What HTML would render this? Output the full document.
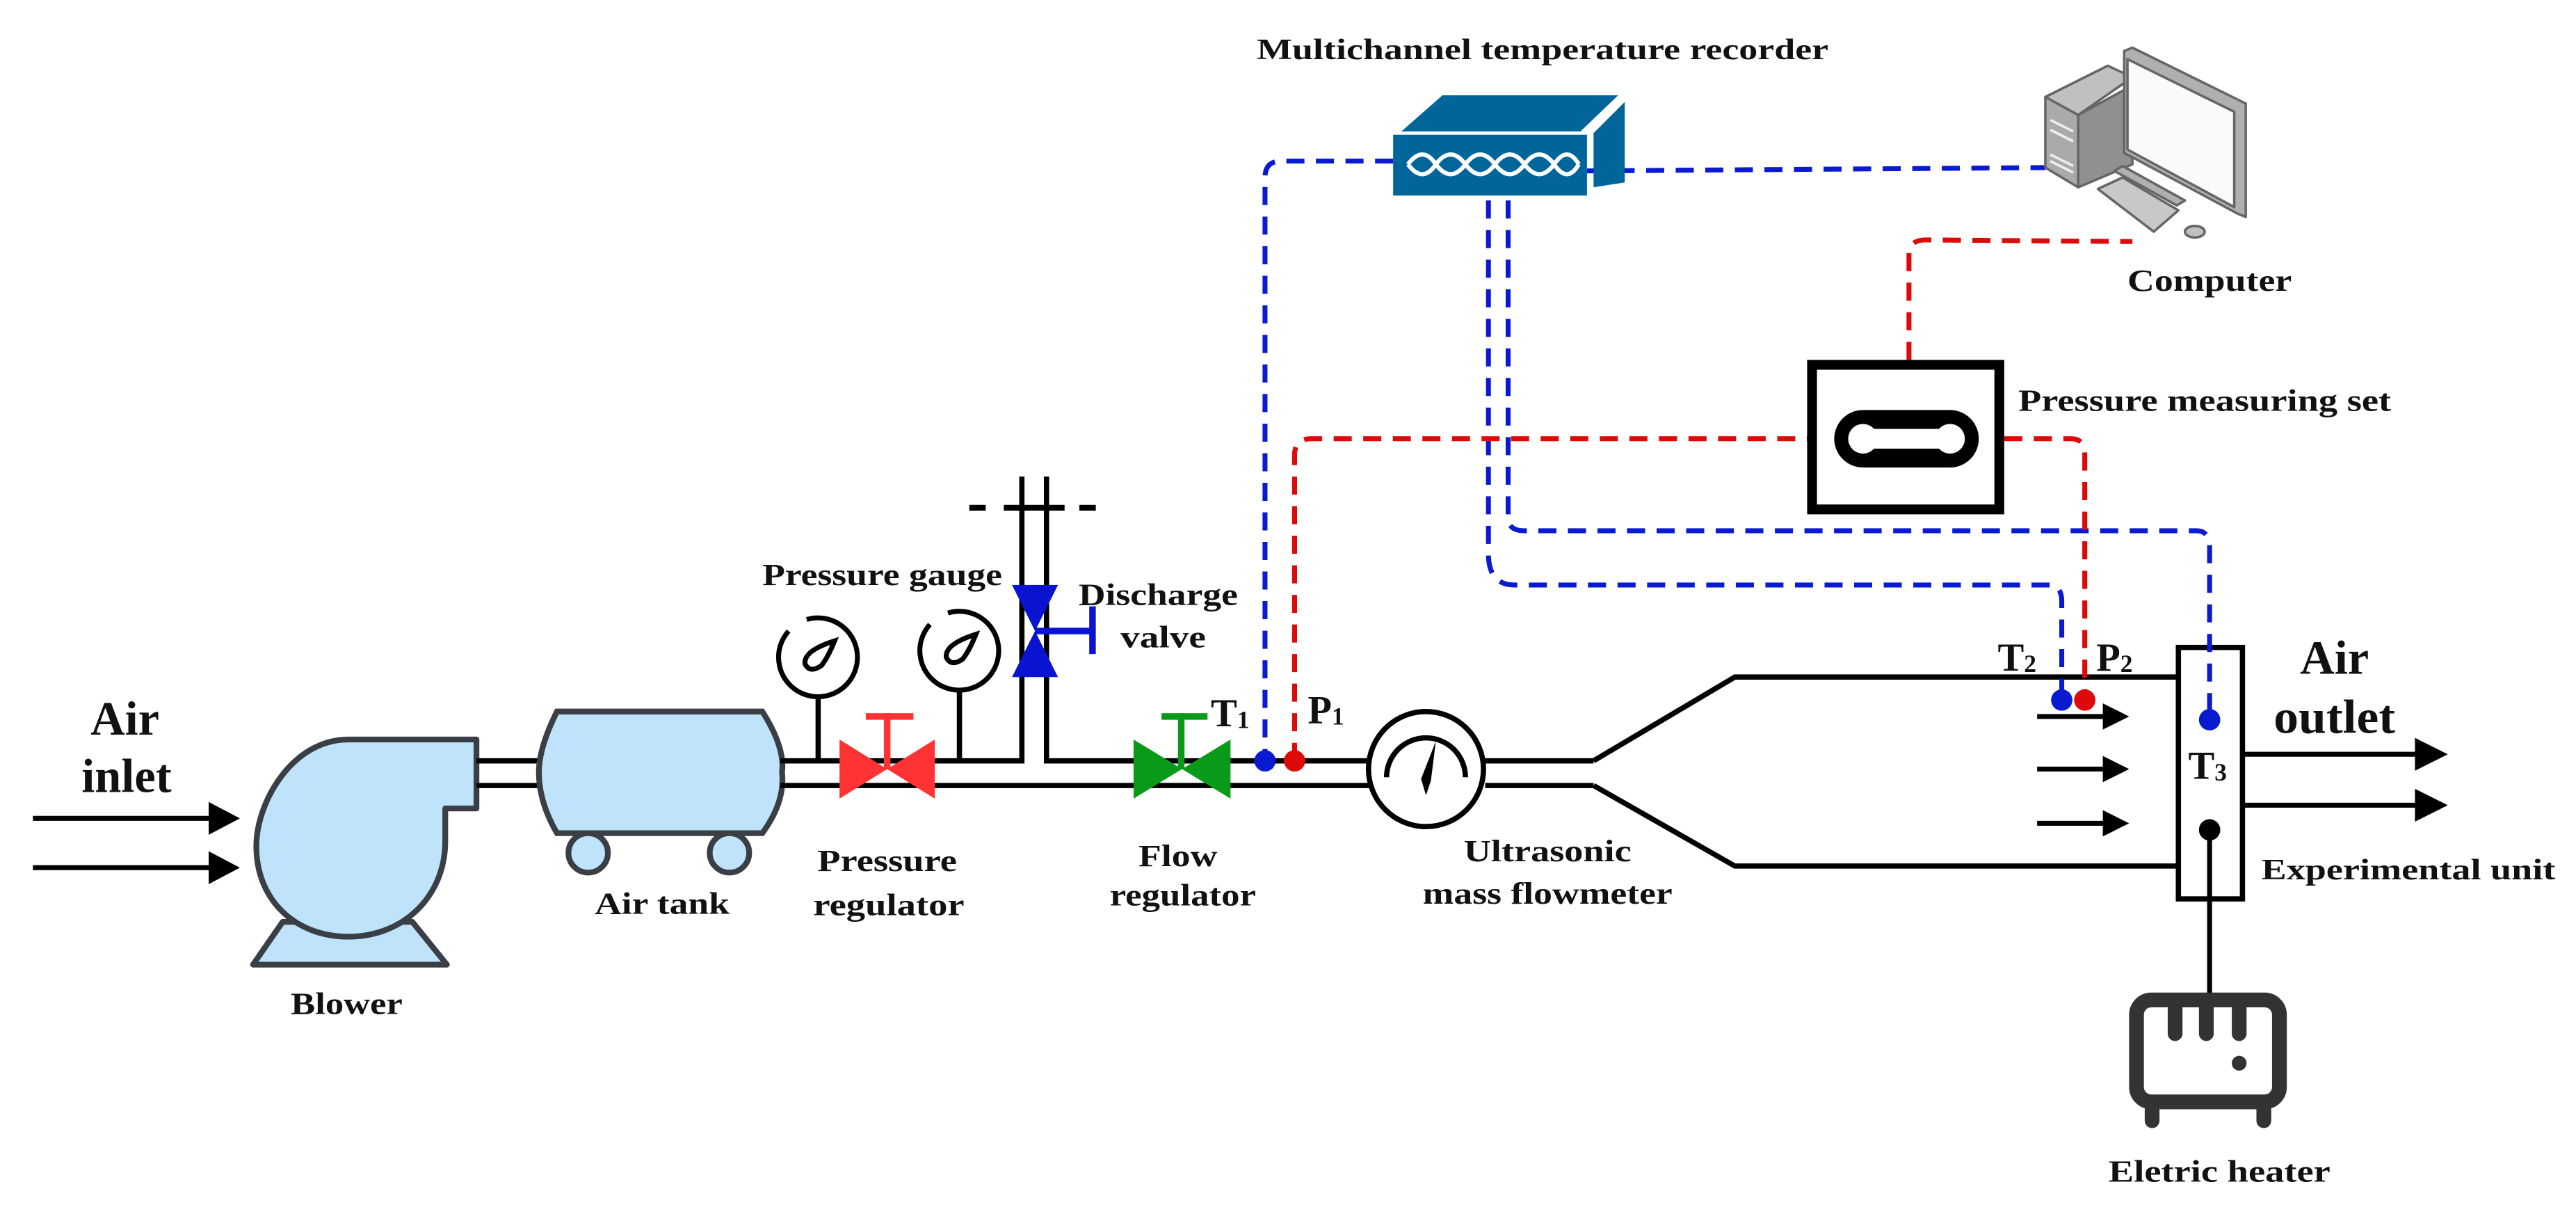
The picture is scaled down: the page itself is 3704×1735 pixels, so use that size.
<!DOCTYPE html>
<html><head><meta charset="utf-8"><style>
html,body{margin:0;padding:0;background:#fff;}
svg{display:block;}
text{font-family:"Liberation Serif",serif;font-weight:bold;fill:#111;}
</style></head><body>
<svg width="3704" height="1735" viewBox="0 0 1568 734.5" xmlns="http://www.w3.org/2000/svg">
<rect width="1568" height="734.5" fill="#fff"/>
<!-- inlet arrows -->
<g stroke="#000" stroke-width="3" fill="#000">
<line x1="20" y1="498" x2="138" y2="498"/><polygon points="127,488 146,498 127,508" stroke="none"/>
<line x1="20" y1="528" x2="138" y2="528"/><polygon points="127,518 146,528 127,538" stroke="none"/>
</g>
<text x="76" y="447" font-size="29" text-anchor="middle">Air</text>
<text x="77" y="482" font-size="29" text-anchor="middle">inlet</text>
<!-- blower -->
<g fill="#bfe3fb" stroke="#3a3f45" stroke-width="3.5" stroke-linejoin="round">
<polygon points="172,561 251,561 272,587 154,587"/>
<path d="M290,450 L212,450 C178,450 156,488 156,515 C156,548 180,570 212,570 C246,570 271,545 271,512 L271,492 L290,492 Z"/>
</g>
<!-- duct -->
<g stroke="#000" stroke-width="3.2">
<line x1="290" y1="463" x2="330" y2="463"/><line x1="290" y1="478" x2="330" y2="478"/>
</g>
<!-- tank -->
<g fill="#bfe3fb" stroke="#3a3f45" stroke-width="3.5">
<path d="M339,433 L464,433 Q478,455 476,470 Q478,488 464,507 L339,507 Q328,488 328,470 Q328,455 339,433 Z"/>
<circle cx="358" cy="519" r="12"/><circle cx="444" cy="519" r="12"/>
</g>
<text x="403" y="556" font-size="19" text-anchor="middle" textLength="82" lengthAdjust="spacingAndGlyphs">Air tank</text>
<text x="211" y="617" font-size="19" text-anchor="middle" textLength="68" lengthAdjust="spacingAndGlyphs">Blower</text>
<!-- main pipe -->
<g stroke="#000" stroke-width="3.2" fill="none">
<line x1="475" y1="478" x2="834" y2="478"/>
<polyline points="475,463 622,463 622,290"/>
<polyline points="637,290 637,463 834,463"/>
<line x1="498" y1="424" x2="498" y2="463"/>
<line x1="584" y1="420" x2="584" y2="463"/>
</g>
<!-- discharge dashes -->
<g stroke="#000" stroke-width="3.5">
<line x1="590" y1="309" x2="600" y2="309"/><line x1="611" y1="309" x2="648" y2="309"/><line x1="657" y1="309" x2="667" y2="309"/>
</g>
<!-- gauges -->
<g fill="none" stroke="#000" stroke-width="3">
<path d="M491,377 A24,24 0 1 1 480,384"/>
<path d="M508,390 Q504,400 500,405 Q493,410 490,404 Q489,396 508,390 Z"/>
<path d="M577,373 A24,24 0 1 1 566,380"/>
<path d="M594,386 Q590,396 586,401 Q579,406 576,400 Q575,392 594,386 Z"/>
</g>
<text x="537" y="356" font-size="19" text-anchor="middle" textLength="146" lengthAdjust="spacingAndGlyphs">Pressure gauge</text>
<!-- red valve -->
<g fill="#ff3333"><polygon points="511,450 569,486 569,450 511,486"/>
<rect x="527" y="434" width="29" height="4"/><rect x="538" y="434" width="4" height="34"/></g>
<text x="540" y="530" font-size="19" text-anchor="middle" textLength="85" lengthAdjust="spacingAndGlyphs">Pressure</text>
<text x="541" y="557" font-size="19" text-anchor="middle" textLength="92" lengthAdjust="spacingAndGlyphs">regulator</text>
<!-- blue valve -->
<g fill="#0a14d0"><polygon points="616,356 644,356 616,412 644,412"/>
<rect x="630" y="382" width="35" height="4"/><rect x="663" y="369" width="4" height="29"/></g>
<text x="705" y="368" font-size="19" text-anchor="middle" textLength="97" lengthAdjust="spacingAndGlyphs">Discharge</text>
<text x="708" y="394" font-size="19" text-anchor="middle" textLength="52" lengthAdjust="spacingAndGlyphs">valve</text>
<!-- green valve -->
<g fill="#0a9a1a"><polygon points="690,450 749,486 749,450 690,486"/>
<rect x="707" y="434" width="28" height="4"/><rect x="717" y="434" width="4" height="34"/></g>
<text x="717" y="527" font-size="19" text-anchor="middle" textLength="48" lengthAdjust="spacingAndGlyphs">Flow</text>
<text x="720" y="551" font-size="19" text-anchor="middle" textLength="89" lengthAdjust="spacingAndGlyphs">regulator</text>
<!-- flowmeter -->
<g stroke="#000" stroke-width="3.2" fill="none">
<circle cx="868" cy="468" r="35" fill="#fff"/>
<path d="M844,473 A24,24 0 1 1 892,473"/>
<line x1="904" y1="463" x2="970" y2="463"/><line x1="904" y1="478" x2="970" y2="478"/>
<polyline points="970,463 1056,412 1326,412"/>
<polyline points="970,478 1056,527 1326,527"/>
</g>
<polygon points="874,451 871,475 868,484 865,474" fill="#000"/>
<text x="942" y="524" font-size="19" text-anchor="middle" textLength="102" lengthAdjust="spacingAndGlyphs">Ultrasonic</text>
<text x="942" y="550" font-size="19" text-anchor="middle" textLength="152" lengthAdjust="spacingAndGlyphs">mass flowmeter</text>
<!-- inner arrows -->
<g stroke="#000" stroke-width="3" fill="#000">
<line x1="1240" y1="436" x2="1285" y2="436"/><polygon points="1280,428 1296,436 1280,444" stroke="none"/>
<line x1="1240" y1="468" x2="1285" y2="468"/><polygon points="1280,460 1296,468 1280,476" stroke="none"/>
<line x1="1240" y1="501" x2="1285" y2="501"/><polygon points="1280,493 1296,501 1280,509" stroke="none"/>
</g>
<!-- experimental unit -->
<rect x="1326" y="394" width="39" height="153" fill="#fff" stroke="#000" stroke-width="3.2"/>
<g stroke="#000" stroke-width="3" fill="#000">
<line x1="1365" y1="459" x2="1478" y2="459"/><polygon points="1470,449 1490,459 1470,469" stroke="none"/>
<line x1="1365" y1="490" x2="1478" y2="490"/><polygon points="1470,480 1490,490 1470,500" stroke="none"/>
<line x1="1345" y1="505" x2="1345" y2="605"/>
</g>
<circle cx="1345" cy="505" r="6.5" fill="#000"/>
<text x="1421" y="410" font-size="29" text-anchor="middle">Air</text>
<text x="1421" y="446" font-size="29" text-anchor="middle" textLength="74" lengthAdjust="spacingAndGlyphs">outlet</text>
<text x="1466" y="535" font-size="18" text-anchor="middle" textLength="179" lengthAdjust="spacingAndGlyphs">Experimental unit</text>
<!-- heater -->
<g stroke="#333" stroke-width="9" fill="none" stroke-linecap="round">
<rect x="1300.5" y="608.5" width="87" height="62" rx="9"/>
<line x1="1324" y1="610" x2="1324" y2="629"/><line x1="1343" y1="610" x2="1343" y2="629"/><line x1="1363" y1="610" x2="1363" y2="629"/>
<line x1="1310" y1="672" x2="1310" y2="682"/><line x1="1378" y1="672" x2="1378" y2="682"/>
</g>
<circle cx="1363" cy="647" r="4.5" fill="#333"/>
<text x="1351" y="719" font-size="19" text-anchor="middle" textLength="135" lengthAdjust="spacingAndGlyphs">Eletric heater</text>
<!-- dashed connections -->
<g fill="none" stroke-width="3" stroke-dasharray="11,7">
<path d="M848,98 L780,98 Q770,98 770,108 L770,463" stroke="#0a1ad0"/>
<path d="M966,104 L1245,102" stroke="#0a1ad0"/>
<path d="M918,122 L918,315 Q918,323 928,323 L1337,323 Q1345,323 1345,333 L1345,438" stroke="#0a1ad0"/>
<path d="M906,122 L906,337 Q906,356 922,356 L1247,356 Q1255,356 1255,366 L1255,426" stroke="#0a1ad0"/>
<path d="M788,463 L788,277 Q788,267 798,267 L1100,267" stroke="#dd0a0a"/>
<path d="M1220,267 L1261,267 Q1269,267 1269,277 L1269,426" stroke="#dd0a0a"/>
<path d="M1162,219 L1162,155 Q1162,146 1172,146 L1298,147" stroke="#dd0a0a"/>
</g>
<!-- sensor dots -->
<circle cx="770" cy="463" r="6.5" fill="#0a1ad0"/>
<circle cx="788" cy="463" r="6.5" fill="#dd0a0a"/>
<circle cx="1255" cy="426" r="6.5" fill="#0a1ad0"/>
<circle cx="1269" cy="426" r="6.5" fill="#dd0a0a"/>
<circle cx="1345" cy="438" r="6.5" fill="#0a1ad0"/>
<text x="737" y="442" font-size="24">T<tspan font-size="15" dy="1">1</tspan></text>
<text x="796" y="440" font-size="24">P<tspan font-size="15" dy="1">1</tspan></text>
<text x="1216" y="408" font-size="24">T<tspan font-size="15" dy="1">2</tspan></text>
<text x="1276" y="408" font-size="24">P<tspan font-size="15" dy="1">2</tspan></text>
<text x="1332" y="474" font-size="24">T<tspan font-size="15" dy="1">3</tspan></text>
<!-- pressure measuring set -->
<rect x="1103" y="222" width="114" height="88" fill="#fff" stroke="#000" stroke-width="6"/>
<rect x="1120" y="253" width="81" height="28" rx="14" fill="#000" stroke="#000" stroke-width="7"/>
<rect x="1140" y="261" width="41" height="12" fill="#fff"/>
<circle cx="1134" cy="267" r="9" fill="#fff"/>
<circle cx="1187" cy="267" r="9" fill="#fff"/>
<text x="1342" y="250" font-size="19" text-anchor="middle" textLength="227" lengthAdjust="spacingAndGlyphs">Pressure measuring set</text>
<!-- recorder -->
<g fill="#00669a">
<polygon points="853,80 878,58 985,58 962,80"/>
<polygon points="970,81 989,62 989,111 970,114"/>
<rect x="848" y="82" width="118" height="37"/>
</g>
<g fill="none" stroke="#fff" stroke-width="2.6">
<path d="M857,100 Q866,88 874,100 Q883,88 892,100 Q901,88 910,100 Q919,88 928,100 Q937,88 946,100 Q954,88 961,100"/>
<path d="M857,100 Q866,112 874,100 Q883,112 892,100 Q901,112 910,100 Q919,112 928,100 Q937,112 946,100 Q954,112 961,100"/>
</g>
<text x="939" y="36" font-size="18" text-anchor="middle" textLength="348" lengthAdjust="spacingAndGlyphs">Multichannel temperature recorder</text>
<!-- computer -->
<g stroke="#666" stroke-width="1.5" stroke-linejoin="round">
<polygon points="1245,59 1283,40 1298,47 1265,70" fill="#c0c0c0"/>
<polygon points="1265,70 1298,52 1298,100 1265,114" fill="#909090"/>
<polygon points="1245,59 1265,70 1265,114 1245,102" fill="#aaaaaa"/>
<polygon points="1277,115 1292,108 1326,128 1311,141" fill="#c8c8c8"/>
<polygon points="1287,104 1292,101 1330,122 1325,125" fill="#b0b0b0"/>
<polygon points="1293,31 1298,29 1367,63 1367,132 1362,130 1293,93" fill="#b0b0b0"/>
<polygon points="1295,36 1360,68 1360,126 1295,91" fill="#fafafa"/>
<ellipse cx="1336" cy="141" rx="6" ry="3.5" fill="#c0c0c0"/>
</g>
<g stroke="#eee" stroke-width="1.5"><line x1="1248" y1="73" x2="1262" y2="80"/><line x1="1248" y1="79" x2="1262" y2="86"/><line x1="1248" y1="94" x2="1262" y2="101"/><line x1="1248" y1="98" x2="1262" y2="105"/></g>
<text x="1345" y="177" font-size="19" text-anchor="middle" textLength="100" lengthAdjust="spacingAndGlyphs">Computer</text>
</svg>
</body></html>
